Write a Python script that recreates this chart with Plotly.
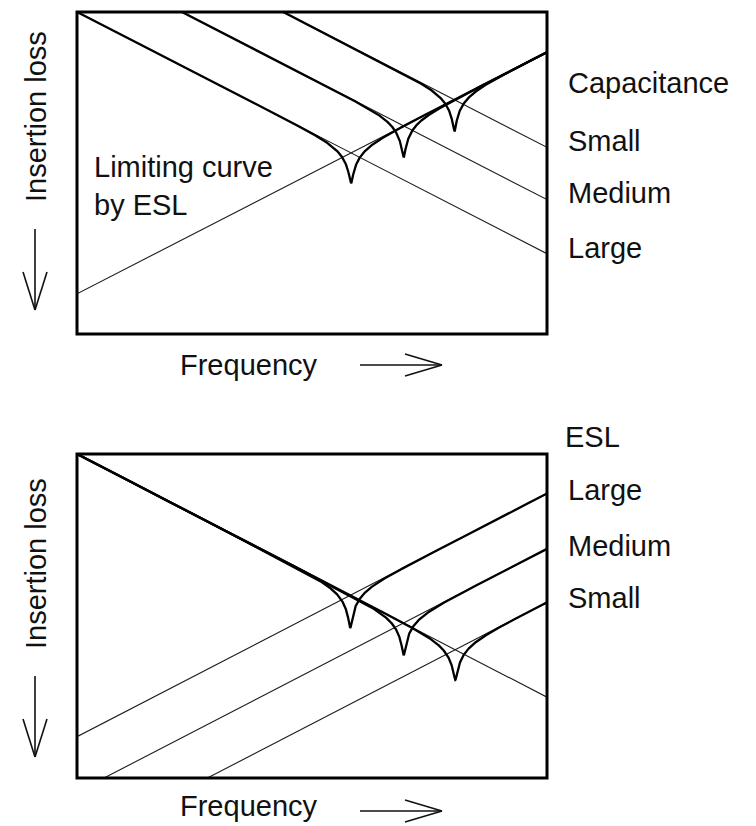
import numpy as np
import plotly.graph_objects as go

# Normalised impedance model on log-log axes:
#   |Z_C| = 1 / (f * C),  |Z_L| = f * L,  |Z| = sqrt(ESR^2 + (f*L - 1/(f*C))^2)
FREQ_LOG_RANGE = [0.0, 8.0]       # log10 f across the box
IMP_LOG_RANGE = [-5.33, 5.33]     # log10 |Z| across the box

# Upper panel: three capacitances sharing one ESL
cap_names = ["Large", "Medium", "Small"]
cap_log_c = [-5.33, -7.12, -8.85]
cap_log_l = -4.0
cap_esr = [0.46, 3.3, 24.0]

# Lower panel: one capacitance with three ESL values
esl_names = ["Large", "Medium", "Small"]
esl_log_l = [-3.97, -5.79, -7.55]
esl_log_c = -5.33
esl_esr = [0.40, 0.051, 0.0079]

upper_labels = ["Capacitance", "Small", "Medium", "Large"]
lower_labels = ["ESL", "Large", "Medium", "Small"]

W, H = 756, 826
FONT = "Liberation Sans, Arial, Helvetica, sans-serif"
FS = 29
THIN = dict(color="#1c1c1c", width=1.1)
THICK = dict(color="#000000", width=2.3)


def px(x):
    return x / W


def py(y):
    return 1 - y / H


def f_grid(extra):
    base = np.logspace(FREQ_LOG_RANGE[0], FREQ_LOG_RANGE[1], 8001)
    return np.unique(np.concatenate([base, np.asarray(extra)]))


def impedance(f, c, l, r):
    return np.sqrt(r ** 2 + (f * l - 1.0 / (f * c)) ** 2)


fig = go.Figure()
f_edges = np.array([10 ** FREQ_LOG_RANGE[0], 10 ** FREQ_LOG_RANGE[1]])

# ---- upper panel ----
l_up = 10 ** cap_log_l
fig.add_trace(go.Scatter(x=f_edges, y=f_edges * l_up, mode="lines", line=THIN,
                         xaxis="x", yaxis="y", hoverinfo="skip"))
for lc in cap_log_c:
    c = 10 ** lc
    fig.add_trace(go.Scatter(x=f_edges, y=1.0 / (f_edges * c), mode="lines", line=THIN,
                             xaxis="x", yaxis="y", hoverinfo="skip"))
for name, lc, r in zip(cap_names, cap_log_c, cap_esr):
    c = 10 ** lc
    f0 = 1.0 / np.sqrt(l_up * c)
    f = f_grid([f0])
    fig.add_trace(go.Scatter(x=f, y=impedance(f, c, l_up, r), mode="lines", line=THICK,
                             name=name, xaxis="x", yaxis="y", hoverinfo="skip"))

# ---- lower panel ----
c_lo = 10 ** esl_log_c
fig.add_trace(go.Scatter(x=f_edges, y=1.0 / (f_edges * c_lo), mode="lines", line=THIN,
                         xaxis="x2", yaxis="y2", hoverinfo="skip"))
for ll in esl_log_l:
    l = 10 ** ll
    fig.add_trace(go.Scatter(x=f_edges, y=f_edges * l, mode="lines", line=THIN,
                             xaxis="x2", yaxis="y2", hoverinfo="skip"))
for name, ll, r in zip(esl_names, esl_log_l, esl_esr):
    l = 10 ** ll
    f0 = 1.0 / np.sqrt(l * c_lo)
    f = f_grid([f0])
    fig.add_trace(go.Scatter(x=f, y=impedance(f, c_lo, l, r), mode="lines", line=THICK,
                             name=name, xaxis="x2", yaxis="y2", hoverinfo="skip"))

x_dom = [px(77), px(547)]
axis_common = dict(showgrid=False, zeroline=False, showticklabels=False,
                   ticks="", showline=False, type="log", fixedrange=True)

fig.update_layout(
    width=W, height=H,
    margin=dict(l=0, r=0, t=0, b=0),
    paper_bgcolor="white", plot_bgcolor="white",
    showlegend=False,
    xaxis=dict(domain=x_dom, range=FREQ_LOG_RANGE, anchor="y", **axis_common),
    yaxis=dict(domain=[py(334), py(12)], range=IMP_LOG_RANGE, anchor="x", **axis_common),
    xaxis2=dict(domain=x_dom, range=FREQ_LOG_RANGE, anchor="y2", **axis_common),
    yaxis2=dict(domain=[py(778), py(454)], range=IMP_LOG_RANGE, anchor="x2", **axis_common),
)

# frames
shapes = []
for xr, yr in [("x domain", "y domain"), ("x2 domain", "y2 domain")]:
    shapes.append(dict(type="rect", xref=xr, yref=yr, x0=0, x1=1, y0=0, y1=1,
                       line=dict(color="black", width=3), layer="above"))


def seg(x0, y0, x1, y1, w=1.6):
    return dict(type="line", xref="paper", yref="paper",
                x0=px(x0), y0=py(y0), x1=px(x1), y1=py(y1),
                line=dict(color="#111", width=w))


# arrows: "insertion loss" (downwards) and "frequency" (rightwards)
for dy in (0, 447):
    shapes += [seg(35, 229 + dy, 35, 310 + dy),
               seg(23, 272 + dy, 35, 310 + dy),
               seg(47, 272 + dy, 35, 310 + dy)]
for yy in (365, 811):
    shapes += [seg(360, yy, 442, yy),
               seg(405, yy - 11, 442, yy),
               seg(405, yy + 11, 442, yy)]
fig.update_layout(shapes=shapes)

annotations = []


def label(text, x, y, xanchor="left", angle=0):
    annotations.append(dict(text=text, x=px(x), y=py(y), xref="paper", yref="paper",
                            xanchor=xanchor, yanchor="middle", showarrow=False,
                            textangle=angle, align="left",
                            font=dict(family=FONT, size=FS, color="#111")))


label("Insertion loss", 36, 117, xanchor="center", angle=-90)
label("Insertion loss", 36, 564, xanchor="center", angle=-90)
label("Frequency", 249, 365, xanchor="center")
label("Frequency", 249, 806, xanchor="center")
label("Limiting curve<br>by ESL", 92, 186)

for text, y in zip(upper_labels, [83, 141, 193, 248]):
    label(text, 566, y)
for text, y, x in zip(lower_labels, [437, 490, 546, 598], [563, 566, 566, 566]):
    label(text, x, y)

fig.update_layout(annotations=annotations)
fig.write_html("out.html")
